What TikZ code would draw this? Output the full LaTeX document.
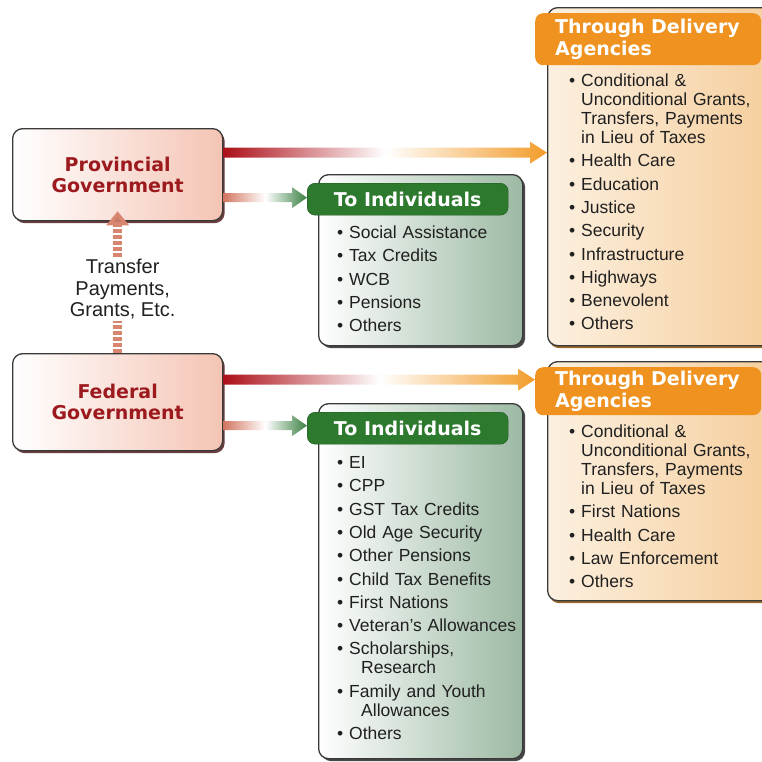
\documentclass[tikz,border=0pt]{standalone}
\usepackage{fontspec}
\setmainfont{Liberation Sans}
\newfontfamily\headfont{DejaVu Sans}
\usetikzlibrary{arrows.meta,calc,shadows,positioning}
\definecolor{boxline}{HTML}{3A3A3A}
\definecolor{govred}{HTML}{9C1A1E}
\definecolor{govpink}{HTML}{F4C4B4}
\definecolor{indgreen}{HTML}{2D7A2F}
\definecolor{indfill}{HTML}{9CB9A3}
\definecolor{agorange}{HTML}{EF921F}
\definecolor{agfill}{HTML}{F5CC98}
\definecolor{aglight}{HTML}{FCF0E0}
\definecolor{arrred}{HTML}{AC0F18}
\definecolor{arrorange}{HTML}{F29C2A}
\definecolor{arrgreen}{HTML}{3A8043}
\definecolor{arrsalmon}{HTML}{D27560}
\definecolor{transfer}{HTML}{D98670}
\definecolor{listtext}{HTML}{202020}
\newcommand\bitem{\par\noindent\hangindent=12pt\hangafter=1\makebox[12pt][l]{\textbullet}}
\begin{document}
\begin{tikzpicture}[x=1pt,y=-1pt,
    govbox/.style={rectangle,rounded corners=10pt,draw=boxline,line width=1.3pt,left color=white,right color=govpink,
      minimum width=210pt,text=govred,align=center,font=\headfont\bfseries\fontsize{19}{21}\selectfont,
      drop shadow={shadow xshift=2pt,shadow yshift=-2.5pt,fill=govred!45!black,opacity=.8}},
    indbox/.style={rectangle,rounded corners=10pt,draw=boxline,line width=1.3pt,left color=white,right color=indfill,
      minimum width=204pt,drop shadow={shadow xshift=2.5pt,shadow yshift=-2.5pt,fill=black!80,opacity=.9}},
    indhead/.style={rectangle,rounded corners=8pt,fill=indgreen,draw=indgreen!70!black,text=white,
      minimum width=201pt,minimum height=32pt,font=\headfont\bfseries\fontsize{19}{22}\selectfont},
    agbox/.style={rectangle,rounded corners=10pt,draw=boxline,line width=1.3pt,left color=aglight,right color=agfill,
      minimum width=240pt,drop shadow={shadow xshift=1.5pt,shadow yshift=-2.5pt,fill=agorange!60!black,opacity=.9}},
    aghead/.style={rectangle,rounded corners=8pt,fill=agorange,text=white,inner xsep=20pt,text width=186pt,align=left,
      font=\headfont\bfseries\fontsize{19}{22}\selectfont},
    itemlist/.style={inner sep=0pt,text width=200pt,align=left,text=listtext,
      font=\fontsize{17.5}{19}\selectfont\setlength{\parskip}{4.3pt}},
    redflow/.style={left color=arrred,right color=arrorange,middle color=white,
      to path={($(\tikztostart)+(0,-5)$) -- ($(\tikztotarget)+(-17,-5)$) -- ($(\tikztotarget)+(-17,-11)$) -- (\tikztotarget)
        -- ($(\tikztotarget)+(-17,11)$) -- ($(\tikztotarget)+(-17,5)$) -- ($(\tikztostart)+(0,5)$) -- cycle}},
    greenflow/.style={left color=arrsalmon,right color=arrgreen,middle color=white,
      to path={($(\tikztostart)+(0,-4.5)$) -- ($(\tikztotarget)+(-15,-4.5)$) -- ($(\tikztotarget)+(-15,-10.5)$) -- (\tikztotarget)
        -- ($(\tikztotarget)+(-15,10.5)$) -- ($(\tikztotarget)+(-15,4.5)$) -- ($(\tikztostart)+(0,4.5)$) -- cycle}}]
    \useasboundingbox (0,0) rectangle (762,761);

    \node[govbox,minimum height=92pt,anchor=north west] (prov) at (12,128) {Provincial\\Government};
    \node[govbox,minimum height=97pt,anchor=north west] (fed) at (12,353) {Federal\\Government};

    \node[indbox,minimum height=171pt,anchor=north west] (ind1) at (318,174) {};
    \node[indhead,anchor=north west] (ind1h) at (307,183) {To Individuals};
    \node[itemlist,anchor=north west] (ind1l) at (337,215) {
      \bitem Social Assistance
      \bitem Tax Credits
      \bitem WCB
      \bitem Pensions
      \bitem Others};

    \node[indbox,minimum height=355pt,anchor=north west] (ind2) at (318,403) {};
    \node[indhead,anchor=north west] (ind2h) at (307,412) {To Individuals};
    \node[itemlist,anchor=north west] (ind2l) at (337,445) {
      \bitem EI
      \bitem CPP
      \bitem GST Tax Credits
      \bitem Old Age Security
      \bitem Other Pensions
      \bitem Child Tax Benefits
      \bitem First Nations
      \bitem Veteran's Allowances
      \bitem Scholarships,\newline\hspace*{12pt}Research
      \bitem Family and Youth\newline\hspace*{12pt}Allowances
      \bitem Others};

    \node[agbox,minimum height=338pt,anchor=north west] (ag1) at (547,7) {};
    \node[aghead,minimum height=52pt,anchor=north west] (ag1h) at (535,13) {Through Delivery\\Agencies};
    \node[itemlist,anchor=north west] (ag1l) at (569,63) {
      \bitem Conditional \&\newline Unconditional Grants,\newline Transfers, Payments\newline in Lieu of Taxes
      \bitem Health Care
      \bitem Education
      \bitem Justice
      \bitem Security
      \bitem Infrastructure
      \bitem Highways
      \bitem Benevolent
      \bitem Others};

    \node[agbox,minimum height=239pt,anchor=north west] (ag2) at (547,361) {};
    \node[aghead,minimum height=48pt,anchor=north west] (ag2h) at (535,367) {Through Delivery\\Agencies};
    \node[itemlist,anchor=north west] (ag2l) at (569,414) {
      \bitem Conditional \&\newline Unconditional Grants,\newline Transfers, Payments\newline in Lieu of Taxes
      \bitem First Nations
      \bitem Health Care
      \bitem Law Enforcement
      \bitem Others};

    \coordinate (pa) at ([yshift=22pt]prov.east);
    \coordinate (pb) at (ag1.west |- pa);
    \coordinate (pc) at ([yshift=-23pt]prov.east);
    \coordinate (pd) at (ind1h.west |- pc);
    \coordinate (fa) at ([yshift=22.5pt]fed.east);
    \coordinate (fb) at (ag2h.west |- fa);
    \coordinate (fc) at ([yshift=-23.5pt]fed.east);
    \coordinate (fd) at (ind2h.west |- fc);
    \shade[redflow] (pa) to (pb);
    \shade[greenflow] (pc) to (pd);
    \shade[redflow] (fa) to (fb);
    \shade[greenflow] (fc) to (fd);

    \draw[line width=9pt,draw=transfer,dash pattern=on 4pt off 2pt,-{Triangle[width=22pt,length=14pt,fill=transfer!90!black]}]
      (fed.north) -- ([yshift=10pt]prov.south)
      node[pos=0.45,xshift=5pt,fill=white,inner sep=2pt,align=center,text=listtext,font=\fontsize{20}{21.5}\selectfont]
      (tpay) {Transfer\\Payments,\\Grants, Etc.};
\end{tikzpicture}
\end{document}
